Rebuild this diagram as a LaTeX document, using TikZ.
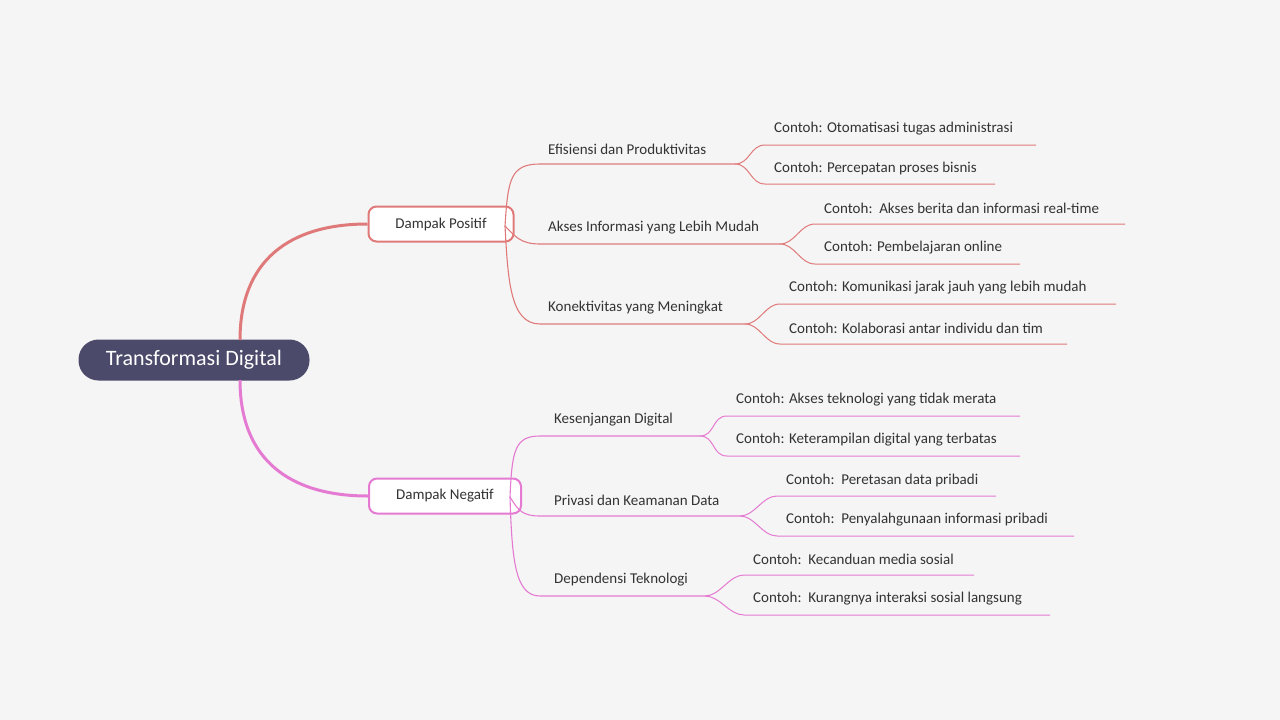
\documentclass[tikz,border=0pt]{standalone}
\usepackage{fontspec}
\setmainfont{Carlito}
\begin{document}
\begin{tikzpicture}[x=1pt,y=-1pt,
  txt/.style={anchor=west,inner sep=0pt,font=\fontsize{15}{17}\selectfont,text=black!80},
  branch/.style={draw=#1,line width=2pt,fill=white,rounded corners=8pt,minimum width=145pt,minimum height=35pt,font=\fontsize{15}{17}\selectfont,text=black!80},
  l1/.style={draw=#1,line width=3pt},
  l2/.style={draw=#1,line width=1.1pt},
  l3/.style={draw=#1,line width=1pt}]
\definecolor{bg}{HTML}{F5F5F5}
\definecolor{rootc}{HTML}{4B4A6B}
\definecolor{pc}{HTML}{E07A7A}
\definecolor{nc}{HTML}{E57AD2}
\fill[bg] (0,0) rectangle (1280,720);
\useasboundingbox (0,0) rectangle (1280,720);
\node[fill=rootc,rounded corners=20pt,minimum width=231pt,minimum height=41pt,text=white,font=\fontsize{22}{25}\selectfont] (root) at (194,360) {Transformasi Digital};
\node[branch=pc] (pos) at (441,224) {Dampak Positif};
\node[branch=nc,minimum width=152pt] (neg) at (445,496) {Dampak Negatif};
\coordinate (rt) at (240,340); \coordinate (rb) at (240,380);
\draw[l1=pc] (rt) .. controls (240,260) and (290,224) .. (pos.west);
\draw[l1=nc] (rb) .. controls (240,460) and (290,496) .. (neg.west);

\coordinate (pp) at (505,226); \coordinate (np) at (510,497);
% positive
\node[txt] (a) at (548,149) {Efisiensi dan Produktivitas};
\node[txt] (b) at (548,228) {Akses Informasi yang Lebih Mudah};
\node[txt] (c) at (548,308) {Konektivitas yang Meningkat};
\draw[l2=pc] (pp) .. controls (508,180) and (510,164) .. (540,164) -- (735,164) coordinate (ae);
\draw[l2=pc] (pp) .. controls (515,236) and (520,244) .. (540,244) -- (780,244) coordinate (be);
\draw[l2=pc] (pp) .. controls (508,280) and (510,324) .. (540,324) -- (745,324) coordinate (ce);
% negative
\node[txt] (d) at (554,420) {Kesenjangan Digital};
\node[txt] (e) at (554,500) {Privasi dan Keamanan Data};
\node[txt] (f) at (554,580) {Dependensi Teknologi};
\draw[l2=nc] (np) .. controls (512,450) and (515,436) .. (540,436) -- (700,436) coordinate (de);
\draw[l2=nc] (np) .. controls (518,510) and (522,516) .. (540,516) -- (740,516) coordinate (ee);
\draw[l2=nc] (np) .. controls (512,560) and (515,596) .. (540,596) -- (705,596) coordinate (fe);

% #1 col, #2 name, #3 parent, #4 startx, #5 y, #6 text, #7 endx
\newcommand{\kid}[7]{%
 \node[txt] (#2) at (#4+9,#5-16) {#6};
 \draw[l3=#1] (#3) .. controls ([xshift=15pt]#3) and (#4-15,#5) .. (#4,#5) -- (#7,#5) coordinate (#2e);
}
\kid{pc}{a1}{ae}{765}{145}{Contoh: Otomatisasi tugas administrasi}{1036}
\kid{pc}{a2}{ae}{765}{184}{Contoh: Percepatan proses bisnis}{995}
\kid{pc}{b1}{be}{815}{224}{Contoh:\ \ Akses berita dan informasi real-time}{1125}
\kid{pc}{b2}{be}{815}{264}{Contoh: Pembelajaran online}{1020}
\kid{pc}{c1}{ce}{780}{304}{Contoh: Komunikasi jarak jauh yang lebih mudah}{1116}
\kid{pc}{c2}{ce}{780}{344}{Contoh: Kolaborasi antar individu dan tim}{1067}
\kid{nc}{d1}{de}{727}{416}{Contoh: Akses teknologi yang tidak merata}{1020}
\kid{nc}{d2}{de}{727}{456}{Contoh: Keterampilan digital yang terbatas}{1020}
\kid{nc}{e1}{ee}{777}{496}{Contoh:\ \ Peretasan data pribadi}{996}
\kid{nc}{e2}{ee}{777}{536}{Contoh:\ \ Penyalahgunaan informasi pribadi}{1074}
\kid{nc}{f1}{fe}{744}{575}{Contoh:\ \ Kecanduan media sosial}{974}
\kid{nc}{f2}{fe}{744}{615}{Contoh:\ \ Kurangnya interaksi sosial langsung}{1050}
\end{tikzpicture}
\end{document}
